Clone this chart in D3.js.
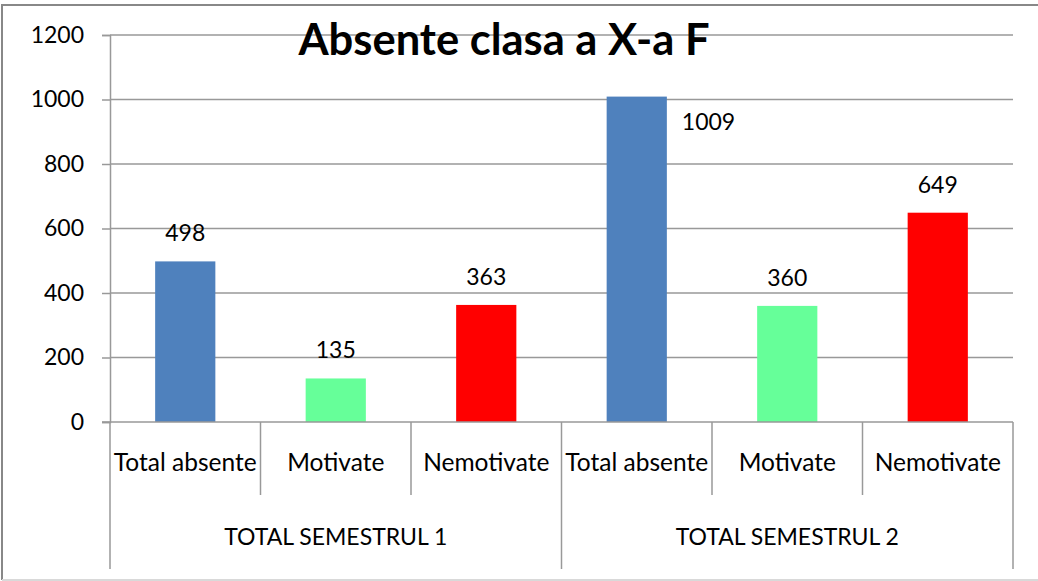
<!DOCTYPE html>
<html>
<head>
<meta charset="utf-8">
<script src="https://cdn.jsdelivr.net/npm/d3@7"></script>
<style>
  html, body { margin: 0; padding: 0; background: #fff; }
  svg text { font-family: Lato, 'Liberation Sans', sans-serif; fill: #000; }
</style>
</head>
<body>
<svg id="chart"></svg>
<script>
var title = 'Absente clasa a X-a F'
var groups = ['TOTAL SEMESTRUL 1', 'TOTAL SEMESTRUL 2']
var categories = ['Total absente', 'Motivate', 'Nemotivate']
var values = [498, 135, 363, 1009, 360, 649]
var colors = ['#4F81BD', '#66FF99', '#FF0000']
var yTicks = [0, 200, 400, 600, 800, 1000, 1200]

function drawChart () {
  var width = 1038
  var height = 581
  var left = 110
  var right = 1013
  var top = 35
  var bottom = 422
  var fontSize = 23

  var svg = d3.select('#chart')
    .attr('width', width)
    .attr('height', height)

  // rows: one per bar
  var rows = []
  groups.forEach(function (g, gi) {
    categories.forEach(function (c, ci) {
      rows.push({ key: gi + '|' + c, group: g, gi: gi, cat: c, ci: ci, value: values[gi * categories.length + ci] })
    })
  })

  var x = d3.scaleBand()
    .domain(rows.map(function (d) { return d.key }))
    .range([left, right])
  var xBar = x.copy()
    .paddingInner(0.6)
    .paddingOuter(0.3)
  var xGroup = d3.scaleBand()
    .domain(groups)
    .range([left, right])
  var y = d3.scaleLinear()
    .domain([0, 1200])
    .range([bottom, top])

  // frame
  svg.append('line').attr('x1', 2).attr('x2', width).attr('y1', 5).attr('y2', 5)
    .attr('stroke', '#888').attr('stroke-width', 2)
  svg.append('line').attr('x1', 2).attr('x2', 2).attr('y1', 4).attr('y2', 580)
    .attr('stroke', '#888').attr('stroke-width', 2)
  svg.append('line').attr('x1', 2).attr('x2', width).attr('y1', 580).attr('y2', 580)
    .attr('stroke', '#d9d9d9').attr('stroke-width', 2)

  // gridlines + y axis
  var yAxis = svg.append('g')
    .attr('transform', 'translate(' + left + ',0)')
    .call(d3.axisLeft(y).tickValues(yTicks).tickSize(8).tickPadding(18).tickFormat(d3.format('d')))
  yAxis.select('.domain').attr('stroke', '#999').attr('stroke-width', 1.5)
  yAxis.selectAll('.tick line').attr('stroke', '#999').attr('stroke-width', 1.5)
  yAxis.selectAll('.tick text').style('font-size', fontSize + 'px').attr('fill', '#000')

  svg.append('g').selectAll('line')
    .data(yTicks.filter(function (t) { return t > 0 }))
    .enter().append('line')
    .attr('x1', left).attr('x2', right)
    .attr('y1', function (d) { return y(d) }).attr('y2', function (d) { return y(d) })
    .attr('stroke', '#999').attr('stroke-width', 1.5)

  // title
  svg.append('text')
    .attr('x', 504)
    .attr('y', 55)
    .attr('text-anchor', 'middle')
    .style('font-size', '43.5px')
    .style('font-weight', 'bold')
    .text(title)

  // bars
  svg.append('g').selectAll('rect')
    .data(rows)
    .enter().append('rect')
    .attr('x', function (d) { return xBar(d.key) })
    .attr('y', function (d) { return y(d.value) })
    .attr('width', xBar.bandwidth())
    .attr('height', function (d) { return y(0) - y(d.value) })
    .attr('fill', function (d) { return colors[d.ci] })

  // value labels (the tallest one sits beside its bar, clear of the title)
  svg.append('g').selectAll('text')
    .data(rows)
    .enter().append('text')
    .attr('x', function (d) {
      if (d.value > 900) return xBar(d.key) + xBar.bandwidth() + 15
      return xBar(d.key) + xBar.bandwidth() / 2
    })
    .attr('y', function (d) {
      if (d.value > 900) return y(d.value) + 33
      return y(d.value) - 20
    })
    .attr('text-anchor', function (d) { return d.value > 900 ? 'start' : 'middle' })
    .style('font-size', fontSize + 'px')
    .text(function (d) { return d.value })

  // x axis line (extends to the left tick)
  svg.append('line')
    .attr('x1', left - 8).attr('x2', right)
    .attr('y1', bottom).attr('y2', bottom)
    .attr('stroke', '#999').attr('stroke-width', 1.5)

  // category dividers
  var bounds = rows.map(function (d) { return x(d.key) }).concat([right])
  svg.append('g').selectAll('line')
    .data(bounds)
    .enter().append('line')
    .attr('x1', function (d) { return d }).attr('x2', function (d) { return d })
    .attr('y1', bottom)
    .attr('y2', function (d, i) { return i % categories.length === 0 ? 569 : 495 })
    .attr('stroke', '#999').attr('stroke-width', 1.5)

  // category labels
  svg.append('g').selectAll('text')
    .data(rows)
    .enter().append('text')
    .attr('x', function (d) { return x(d.key) + x.bandwidth() / 2 })
    .attr('y', 471)
    .attr('text-anchor', 'middle')
    .style('font-size', '24.5px')
    .text(function (d) { return d.cat })

  // group labels
  svg.append('g').selectAll('text')
    .data(groups)
    .enter().append('text')
    .attr('x', function (d) { return xGroup(d) + xGroup.bandwidth() / 2 })
    .attr('y', 545)
    .attr('text-anchor', 'middle')
    .style('font-size', fontSize + 'px')
    .text(function (d) { return d })
}

drawChart()
</script>
</body>
</html>
